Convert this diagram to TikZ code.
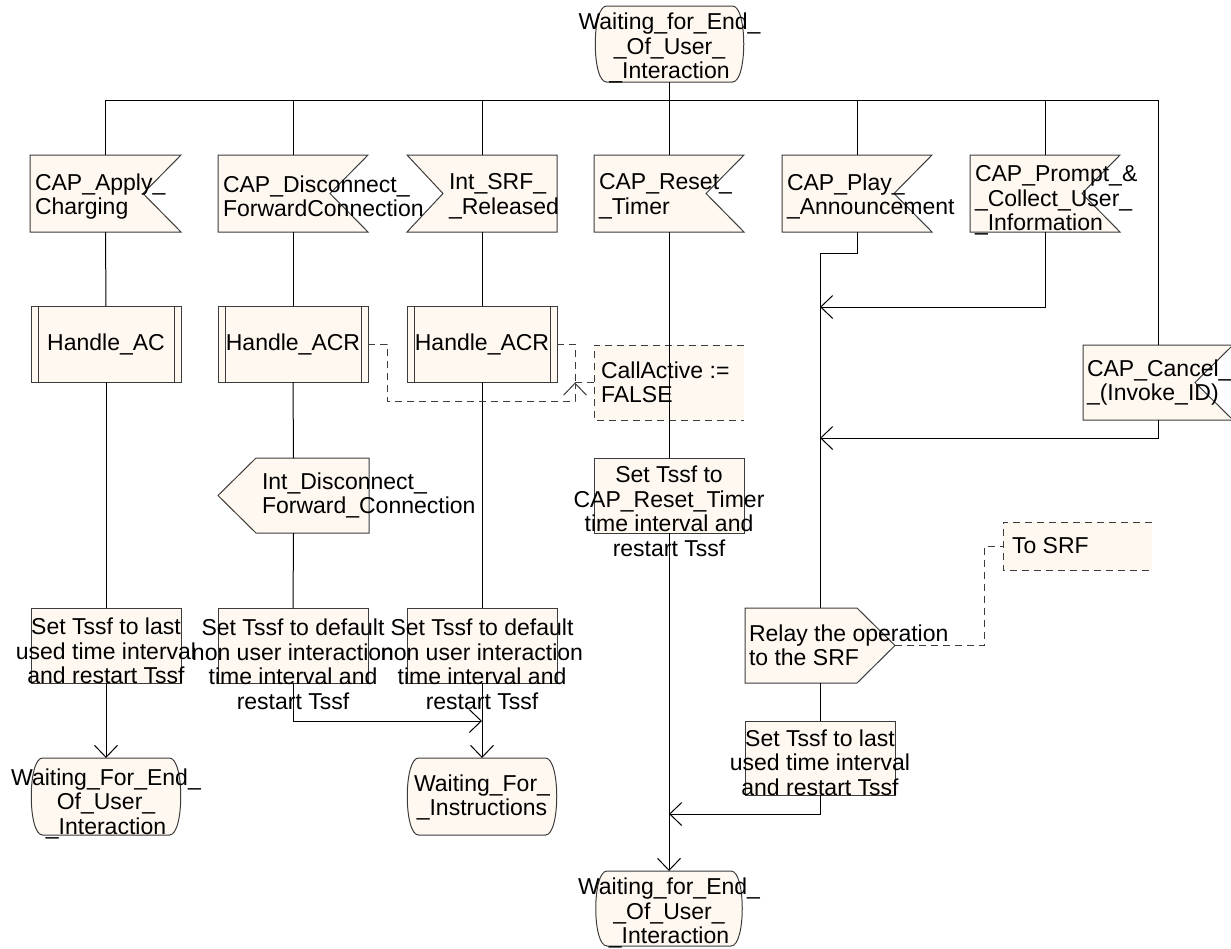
\documentclass[tikz,border=0pt]{standalone}
\usepackage{fontspec}
\setmainfont{Liberation Sans}
\usetikzlibrary{arrows.meta}
\definecolor{sfill}{RGB}{255,248,240}
\definecolor{sline}{RGB}{60,60,60}
\tikzset{
  box/.style={draw=none,inner sep=0pt,outer sep=0pt,minimum width=150pt,minimum height=76pt},
  shp/.style={draw=sline,fill=sfill,line width=1pt},
  txt/.style={inner sep=0pt,outer sep=0pt,font=\fontsize{23}{24.5}\selectfont},
  con/.style={draw=black,line width=1pt},
  arr/.style={-{Straight Barb[length=12pt,width=23pt]}},
  dcon/.style={draw=sline,line width=1pt,dash pattern=on 7pt off 5pt},
}
% input signal: notch on the right
\newcommand\drawinsig[1]{\filldraw[shp] (#1.north west) -- (#1.north east) -- ([xshift=-38pt]#1.east) -- (#1.south east) -- (#1.south west) -- cycle;}
% internal input: notch on the left
\newcommand\drawintin[1]{\filldraw[shp] (#1.north west) -- (#1.north east) -- (#1.south east) -- (#1.south west) -- ([xshift=36pt]#1.west) -- cycle;}
% internal output: point on the left
\newcommand\drawintout[1]{\filldraw[shp] (#1.west) -- ([xshift=38pt]#1.north west) -- (#1.north east) -- (#1.south east) -- ([xshift=38pt]#1.south west) -- cycle;}
% output: point on the right
\newcommand\drawoutsig[1]{\filldraw[shp] (#1.north west) -- ([xshift=-38pt]#1.north east) -- (#1.east) -- ([xshift=-38pt]#1.south east) -- (#1.south west) -- cycle;}
% task box
\newcommand\drawtask[1]{\filldraw[shp] (#1.north west) rectangle (#1.south east);}
% procedure call
\newcommand\drawproccall[1]{\filldraw[shp] (#1.north west) rectangle (#1.south east);
  \draw[sline,line width=1pt] ([xshift=7pt]#1.north west) -- ([xshift=7pt]#1.south west);
  \draw[sline,line width=1pt] ([xshift=-7pt]#1.north east) -- ([xshift=-7pt]#1.south east);}
% state
\newcommand\drawstate[1]{\filldraw[shp] ([xshift=12pt]#1.north west) -- ([xshift=-12pt]#1.north east)
  .. controls ([xshift=3pt]#1.north east) and ([xshift=3pt]#1.south east) .. ([xshift=-12pt]#1.south east)
  -- ([xshift=12pt]#1.south west)
  .. controls ([xshift=-3pt]#1.south west) and ([xshift=-3pt]#1.north west) .. ([xshift=12pt]#1.north west) -- cycle;}
% comment
\newcommand\drawcomment[1]{\fill[sfill] (#1.north west) rectangle (#1.south east);
  \draw[dcon] (#1.north east) -- (#1.north west) -- (#1.south west) -- (#1.south east);}

\begin{document}
\begin{tikzpicture}[x=1pt,y=1pt]
\useasboundingbox (0,0) rectangle (1231,-948);

% ---------- shape nodes ----------
\node[box] (top) at (669.5,-44) {};
\node[box,minimum width=151pt,minimum height=77pt] (s1) at (105.5,-193.5) {};
\node[box,minimum height=77pt] (s2) at (293,-193.5) {};
\node[box,minimum height=77pt] (s3) at (482,-193.5) {};
\node[box,minimum height=77pt] (s4) at (669,-193.5) {};
\node[box,minimum height=77pt] (s5) at (857,-193.5) {};
\node[box,minimum height=77pt] (s6) at (1045,-193.5) {};
\node[box,minimum height=75pt] (s7) at (1158,-382.5) {};
\node[box] (h1) at (106,-344) {};
\node[box] (h2) at (293,-344) {};
\node[box] (h3) at (482,-344) {};
\node[box,minimum height=75pt] (c1) at (669,-382.5) {};
\node[box,minimum width=151pt,minimum height=75pt] (o2) at (293.5,-495.5) {};
\node[box,minimum height=75pt] (t4) at (669,-495.5) {};
\node[box,minimum height=75pt] (t1) at (106,-645.5) {};
\node[box,minimum height=75pt] (t2) at (293,-645.5) {};
\node[box,minimum height=75pt] (t3) at (482,-645.5) {};
\node[box,minimum height=75pt] (relay) at (820,-645.5) {};
\node[box,minimum width=149pt,minimum height=48pt] (c2) at (1077.5,-546) {};
\node[box,minimum height=74pt] (t5) at (820,-758) {};
\node[box,minimum width=151pt,minimum height=77pt] (st1) at (106,-796.5) {};
\node[box,minimum width=151pt,minimum height=77pt] (st3) at (482,-796.5) {};
\node[box,minimum width=148pt,minimum height=75pt] (bot) at (669,-908.5) {};

% ---------- shapes ----------
\drawstate{top}
\drawinsig{s1}
\drawinsig{s2}
\drawintin{s3}
\drawinsig{s4}
\drawinsig{s5}
\drawinsig{s6}
\drawinsig{s7}
\drawproccall{h1}
\drawproccall{h2}
\drawproccall{h3}
\drawcomment{c1}
\drawintout{o2}
\drawtask{t4}
\drawtask{t1}
\drawtask{t2}
\drawtask{t3}
\drawoutsig{relay}
\drawcomment{c2}
\drawtask{t5}
\drawstate{st1}
\drawstate{st3}
\drawstate{bot}

% ---------- texts ----------
\node[txt,align=center] (toptx) at ([yshift=-4pt]top.center) {Waiting\_for\_End\_\\\_Of\_User\_\\\_Interaction};
\node[txt,align=left,anchor=west] (s1tx) at ([xshift=5pt,yshift=-3pt]s1.west) {CAP\_Apply\_\\Charging};
\node[txt,align=left,anchor=west] (s2tx) at ([xshift=5pt,yshift=-3pt]s2.west) {CAP\_Disconnect\_\\ForwardConnection};
\node[txt,align=left,anchor=west] (s3tx) at ([xshift=42pt,yshift=-3pt]s3.west) {Int\_SRF\_\\\_Released};
\node[txt,align=left,anchor=west] (s4tx) at ([xshift=5pt,yshift=-3pt]s4.west) {CAP\_Reset\_\\\_Timer};
\node[txt,align=left,anchor=west] (s5tx) at ([xshift=5pt,yshift=-3pt]s5.west) {CAP\_Play\_\\\_Announcement};
\node[txt,align=left,anchor=west] (s6tx) at ([xshift=5pt,yshift=-7pt]s6.west) {CAP\_Prompt\_\&\\\_Collect\_User\_\\\_Information};
\node[txt,align=left,anchor=west] (s7tx) at ([xshift=4pt]s7.west) {CAP\_Cancel\_\\\_(Invoke\_ID)};
\node[txt] (h1tx) at (h1.center) {Handle\_AC};
\node[txt] (h2tx) at (h2.center) {Handle\_ACR};
\node[txt] (h3tx) at (h3.center) {Handle\_ACR};
\node[txt,align=left,anchor=west] (c1tx) at ([xshift=7pt]c1.west) {CallActive :=\\FALSE};
\node[txt,align=left,anchor=west] (o2tx) at ([xshift=44pt]o2.west) {Int\_Disconnect\_\\Forward\_Connection};
\node[txt,align=center] (t4tx) at ([yshift=-16pt]t4.center) {Set Tssf to\\CAP\_Reset\_Timer\\time interval and\\restart Tssf};
\node[txt,align=center] (t1tx) at ([yshift=-5.5pt]t1.center) {Set Tssf to last\\used time interval\\and restart Tssf};
\node[txt,align=center] (t2tx) at ([yshift=-19pt]t2.center) {Set Tssf to default\\non user interaction\\time interval and\\restart Tssf};
\node[txt,align=center] (t3tx) at ([yshift=-19pt]t3.center) {Set Tssf to default\\non user interaction\\time interval and\\restart Tssf};
\node[txt,align=left,anchor=west] (rtx) at ([xshift=4pt]relay.west) {Relay the operation\\to the SRF};
\node[txt,anchor=west] (c2tx) at ([xshift=9pt]c2.west) {To SRF};
\node[txt,align=center] (t5tx) at ([yshift=-4.5pt]t5.center) {Set Tssf to last\\used time interval\\and restart Tssf};
\node[txt,align=center] (st1tx) at ([yshift=-7pt]st1.center) {Waiting\_For\_End\_\\Of\_User\_\\\_Interaction};
\node[txt,align=center] (st3tx) at ([yshift=-1pt]st3.center) {Waiting\_For\_\\\_Instructions};
\node[txt,align=center] (bottx) at ([yshift=-4.5pt]bot.center) {Waiting\_for\_End\_\\\_Of\_User\_\\\_Interaction};

% ---------- connector coordinates ----------
\coordinate (busL) at (105.5,-100);
\coordinate (busR) at (1158,-100);
\coordinate (k3) at (820,-253);
\coordinate (j2a) at (820,-307);
\coordinate (j2b) at (820,-438);
\coordinate (j1) at (482,-721);
\coordinate (j3) at (669,-814);
\coordinate (k1) at (387,-401);
\coordinate (cm1) at (575,-382.5);
\coordinate (cm2) at (984,-546);

% ---------- connectors ----------
\draw[con] (top.south) -- (top.south |- busL);
\draw[con] (busL) -- (busR);
\foreach \s in {s1,s2,s3,s4,s5,s6} {\draw[con] (\s.north |- busL) -- (\s.north);}
\draw[con] (busR) -- (s7.north);

\draw[con] (s1.south) -- (h1.north);
\draw[con] (h1.south) -- (t1.north);
\draw[con,arr] (t1.south) -- (st1.north);

\draw[con] (s2.south) -- (h2.north);
\draw[con] (h2.south) -- (o2.north);
\draw[con] (o2.south) -- (t2.north);
\draw[con,arr] (t2.south) |- (j1);

\draw[con] (s3.south) -- (h3.north);
\draw[con] (h3.south) -- (t3.north);
\draw[con,arr] (t3.south) -- (st3.north);

\draw[con] (s4.south) -- (t4.north);
\draw[con,arr] (t4.south) -- (bot.north);

\draw[con] (s5.south) |- (k3) -- (relay.north);
\draw[con,arr] (s6.south) |- (j2a);
\draw[con,arr] (s7.south) |- (j2b);
\draw[con] (relay.south) -- (t5.north);
\draw[con,arr] (t5.south) |- (j3);

% comment connections
\draw[dcon,arr] (h2.east) -| (k1) -| (cm1);
\draw[dcon] (h3.east) -| (cm1);
\draw[dcon] (cm1) -- (c1.west);
\draw[dcon] (relay.east) -| (cm2) -- (c2.west);
\end{tikzpicture}
\end{document}
